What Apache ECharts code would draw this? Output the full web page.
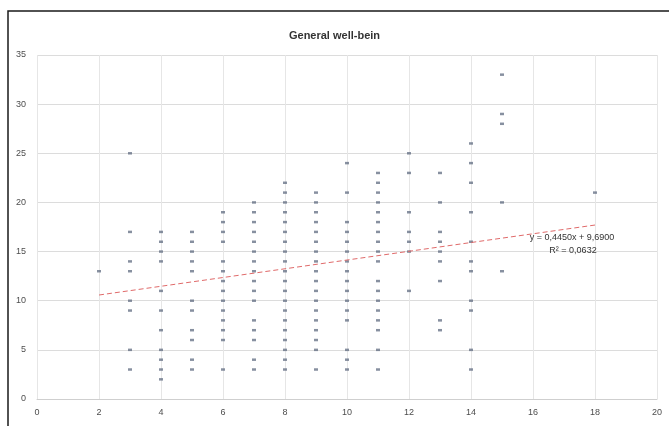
<!DOCTYPE html>
<html>
<head>
<meta charset="utf-8">
<script src="https://cdn.jsdelivr.net/npm/echarts@6/dist/echarts.min.js"></script>
<style>
  html, body { margin: 0; padding: 0; background: #ffffff; }
  #chart { width: 669px; height: 426px; }
</style>
</head>
<body>
<div id="chart"></div>
<script>
// Scores observed for each value of the predictor (x), one array per x value
const scoresAt2  = [13];
const scoresAt3  = [25, 17, 14, 13, 10, 9, 5, 3];
const scoresAt4  = [17, 16, 15, 14, 11, 9, 7, 5, 4, 3, 2];
const scoresAt5  = [17, 16, 15, 14, 13, 10, 9, 7, 6, 4, 3];
const scoresAt6  = [19, 18, 17, 16, 14, 13, 12, 11, 10, 9, 8, 7, 6, 3];
const scoresAt7  = [20, 19, 18, 17, 16, 15, 14, 13, 12, 11, 10, 8, 7, 6, 4, 3];
const scoresAt8  = [22, 21, 20, 19, 18, 17, 16, 15, 14, 13, 12, 11, 10, 9, 8, 7, 6, 5, 4, 3];
const scoresAt9  = [21, 20, 19, 18, 17, 16, 15, 14, 13, 12, 11, 10, 9, 8, 7, 6, 5, 3];
const scoresAt10 = [24, 21, 18, 17, 16, 15, 14, 13, 12, 11, 10, 9, 8, 5, 4, 3];
const scoresAt11 = [23, 22, 21, 20, 19, 18, 17, 16, 15, 14, 12, 11, 10, 9, 8, 7, 5, 3];
const scoresAt12 = [25, 23, 19, 17, 16, 15, 11];
const scoresAt13 = [23, 20, 17, 16, 15, 14, 12, 8, 7];
const scoresAt14 = [26, 24, 22, 19, 16, 14, 13, 10, 9, 5, 3];
const scoresAt15 = [33, 29, 28, 20, 13];
const scoresAt18 = [21];

const predictorValues = [2, 3, 4, 5, 6, 7, 8, 9, 10, 11, 12, 13, 14, 15, 18];
const scoreColumns = [scoresAt2, scoresAt3, scoresAt4, scoresAt5, scoresAt6, scoresAt7,
  scoresAt8, scoresAt9, scoresAt10, scoresAt11, scoresAt12, scoresAt13, scoresAt14,
  scoresAt15, scoresAt18];

// Linear trendline (Excel style) and its fit statistic
const trendSlope = 0.445;
const trendIntercept = 9.69;
const trendR2 = 0.0632;
const trendRange = [2, 18];

const chartTitle = 'General well-bein';

const points = [];
predictorValues.forEach((x, i) => {
  scoreColumns[i].forEach(y => points.push([x, y]));
});

const trendPoints = trendRange.map(x => [x, trendSlope * x + trendIntercept]);

function fmt(v) { return v.toFixed(4).replace('.', ','); }
const eqLine = 'y = ' + fmt(trendSlope) + 'x + ' + fmt(trendIntercept);
const r2Line = 'R² = ' + fmt(trendR2);

const chart = echarts.init(document.getElementById('chart'), null, { renderer: 'canvas' });

const labelColor = '#4d4d4d';
const font = 'Liberation Sans, Arial, sans-serif';

chart.setOption({
  animation: false,
  backgroundColor: '#ffffff',
  title: {
    text: chartTitle,
    left: 'center',
    top: 25,
    textStyle: { fontFamily: font, fontSize: 11, fontWeight: 'bold', color: '#333333' }
  },
  grid: { left: 37, right: 12, top: 55, bottom: 27, containLabel: false, outerBoundsMode: 'none' },
  xAxis: {
    type: 'value',
    min: 0, max: 20, interval: 2,
    axisLine: { show: true, lineStyle: { color: '#cfcfcf', width: 1 } },
    axisTick: { show: false },
    axisLabel: { color: labelColor, fontSize: 9, fontFamily: font, margin: 9 },
    splitLine: { show: true, lineStyle: { color: '#e6e6e6', width: 1 } }
  },
  yAxis: {
    type: 'value',
    min: 0, max: 35, interval: 5,
    axisLine: { show: false },
    axisTick: { show: false },
    axisLabel: { color: labelColor, fontSize: 9, fontFamily: font, margin: 11 },
    splitLine: { show: true, lineStyle: { color: '#dcdcdc', width: 1 } }
  },
  series: [
    {
      name: 'scores',
      type: 'scatter',
      data: points,
      symbol: 'rect',
      symbolSize: [4, 2.5],
      itemStyle: { color: '#5f6b80', opacity: 0.75 },
      z: 3
    },
    {
      name: 'trend',
      type: 'line',
      data: trendPoints,
      showSymbol: false,
      symbol: 'none',
      lineStyle: { color: '#e06a6a', width: 1, type: [5, 3] },
      z: 4
    }
  ],
  graphic: [
    {
      type: 'rect',
      shape: { x: 8, y: 11, width: 720, height: 480 },
      style: { fill: 'none', stroke: '#1a1a1a', lineWidth: 1.5 },
      silent: true
    },
    {
      type: 'text',
      x: 572, y: 238,
      style: { text: eqLine, textAlign: 'center', textVerticalAlign: 'middle', fontSize: 9, fontFamily: font, fill: '#333333' },
      z: 10
    },
    {
      type: 'text',
      x: 573, y: 251,
      style: { text: r2Line, textAlign: 'center', textVerticalAlign: 'middle', fontSize: 9, fontFamily: font, fill: '#333333' },
      z: 10
    }
  ]
});
</script>
</body>
</html>
